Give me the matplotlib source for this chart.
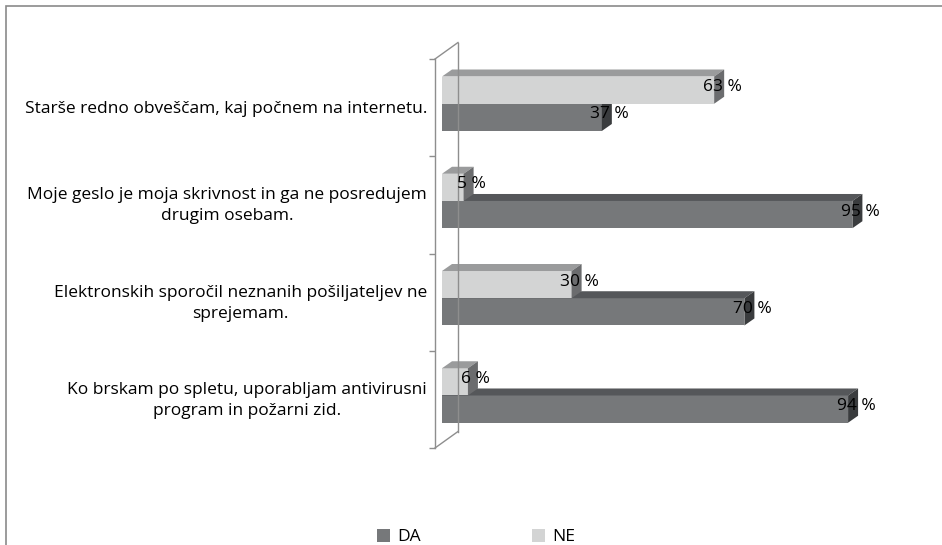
import matplotlib.pyplot as plt
from matplotlib.patches import Polygon, Rectangle, Patch
from matplotlib.lines import Line2D

plt.rcParams['font.family'] = ['Open Sans', 'DejaVu Sans']

# data (top to bottom as in the picture)
categories = [
    'Starše redno obveščam, kaj počnem na internetu.',
    'Moje geslo je moja skrivnost in ga ne posredujem\ndrugim osebam.',
    'Elektronskih sporočil neznanih pošiljateljev ne\nsprejemam.',
    'Ko brskam po spletu, uporabljam antivirusni\nprogram in požarni zid.',
]
da_vals = [37, 95, 70, 94]
ne_vals = [63, 5, 30, 6]
series = ['DA', 'NE']

# colours: front, top, side
da_col = ('#76787a', '#55575a', '#3a3c3e')
ne_col = ('#d3d4d4', '#9a9b9c', '#6b6c6e')
axis_col = '#8e8e8e'
fs = 12.5

W, H = 942, 545
fig = plt.figure(figsize=(W / 100, H / 100), dpi=100)

# outer frame (chart area border, cut at right/bottom)
fig.patches.append(Rectangle((6 / W, -0.1), 2, 1 - 6 / H + 0.1, transform=fig.transFigure,
                             fill=False, edgecolor='#8a8a8a', lw=1.2))

# plot area in pixels
px_front, px_zero, px_full = 435, 442, 874
py_top, py_bot = 59, 448
ax = fig.add_axes([px_front / W, 1 - py_bot / H, (px_full - px_front) / W, (py_bot - py_top) / H])
ppx = (px_full - px_zero) / 100.0          # pixels per % unit
ppy = (py_bot - py_top) / 4.0              # pixels per category band
ax.set_xlim(-(px_zero - px_front) / ppx, 100)
ax.set_ylim(0, 4)
ax.patch.set_alpha(0)
for s in ['top', 'right', 'bottom']:
    ax.spines[s].set_visible(False)
ax.spines['left'].set_color(axis_col)
ax.spines['left'].set_linewidth(1.0)
ax.set_xticks([])
ax.set_yticks([0, 1, 2, 3, 4])
ax.set_yticklabels([])
ax.tick_params(axis='y', length=4, color=axis_col, width=1.0)

# back wall and floor/ceiling edges
x0 = ax.get_xlim()[0]
xb = (458 - px_zero) / ppx
dyb = 16.5 / ppy
ax.add_line(Line2D([xb, xb], [0 + dyb, 4 + dyb], color=axis_col, lw=1.0, clip_on=False))
ax.add_line(Line2D([x0, xb], [4, 4 + dyb], color=axis_col, lw=1.0, clip_on=False))
ax.add_line(Line2D([x0, xb], [0, 0 + dyb], color=axis_col, lw=1.0, clip_on=False))

# 3d bar depth
ddx = 10 / ppx
ddy = 7 / ppy
bh = 0.28
shift = 0.04


def bar3d(v, y_bot, cols):
    y_top = y_bot + bh
    ax.add_patch(Rectangle((0, y_bot), v, bh, facecolor=cols[0], edgecolor='none', clip_on=False))
    ax.add_patch(Polygon([(0, y_top), (v, y_top), (v + ddx, y_top + ddy), (ddx, y_top + ddy)],
                         closed=True, facecolor=cols[1], edgecolor='none', clip_on=False))
    ax.add_patch(Polygon([(v, y_bot), (v, y_top), (v + ddx, y_top + ddy), (v + ddx, y_bot + ddy)],
                         closed=True, facecolor=cols[2], edgecolor='none', clip_on=False))


n = len(categories)
lab_dx = 8 / ppx
lab_dy = 3 / ppy
for i, (cat, da, ne) in enumerate(zip(categories, da_vals, ne_vals)):
    yc = n - 1 - i + 0.5
    y_split = yc + shift
    # DA below, NE above; DA first so NE covers its top face
    bar3d(da, y_split - bh, da_col)
    bar3d(ne, y_split, ne_col)
    ax.text(ne + lab_dx, y_split + bh / 2 + lab_dy, f'{ne} %', ha='center', va='center',
            fontsize=fs, color='black')
    ax.text(da + lab_dx, y_split - bh / 2 + lab_dy, f'{da} %', ha='center', va='center',
            fontsize=fs, color='black')
    fig.text(427 / W, 1 - (py_top + (i + 0.5) * ppy + 1) / H, cat, ha='right', va='center',
             multialignment='center', fontsize=fs, color='black', linespacing=1.4)

handles = [Patch(facecolor=da_col[0]), Patch(facecolor=ne_col[0])]
fig.legend(handles, series, loc='center', bbox_to_anchor=(476 / W, 1 - 537 / H), ncol=2,
           frameon=False, fontsize=fs, handlelength=0.75, handleheight=0.75,
           handletextpad=0.4, columnspacing=6.4, borderpad=0)

fig.savefig('out.png', dpi=100)
